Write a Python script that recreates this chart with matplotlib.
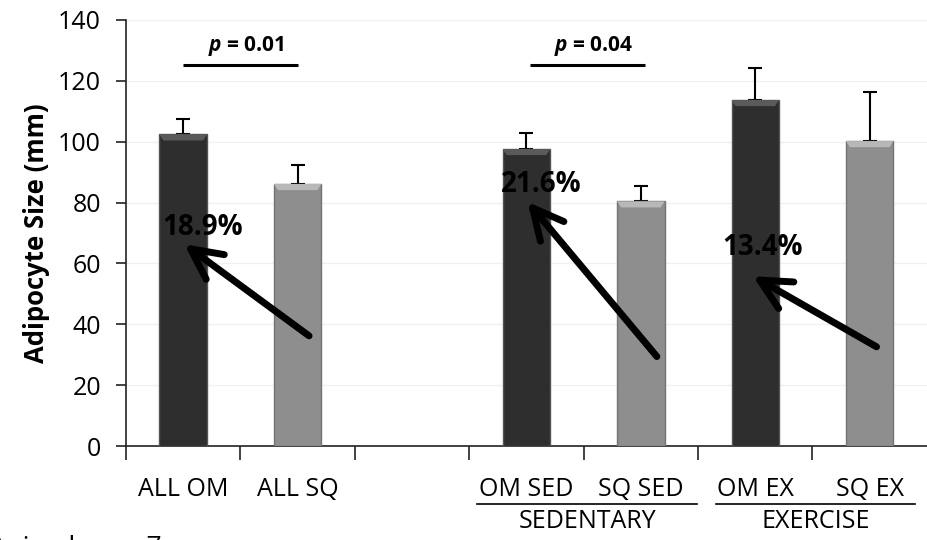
import matplotlib
matplotlib.use("Agg")
import matplotlib.pyplot as plt
from matplotlib.patches import Polygon
from matplotlib.transforms import blended_transform_factory

plt.rcParams['font.family'] = ['Open Sans', 'DejaVu Sans']
plt.rcParams['mathtext.fontset'] = 'custom'
plt.rcParams['mathtext.bfit'] = 'Open Sans:italic:bold'
plt.rcParams['mathtext.bf'] = 'Open Sans:bold'
plt.rcParams['mathtext.rm'] = 'Open Sans:bold'

# ---- data -------------------------------------------------------------
categories = ["ALL OM", "ALL SQ", "", "OM SED", "SQ SED", "OM EX", "SQ EX"]
positions = [0, 1, 3, 4, 5, 6]
means = [102.4, 86.1, 97.6, 80.4, 113.7, 100.2]
errors = [5.1, 6.2, 5.1, 4.9, 10.5, 16.2]
is_om = [True, False, True, False, True, False]

groups = ["SEDENTARY", "EXERCISE"]
group_spans = [(2.57, 4.49), (4.66, 6.40)]

p_values = ["0.01", "0.04"]
p_spans = [(0.0, 1.0), (3.03, 4.04)]
p_level = 125.3

pct_labels = ["18.9%", "21.6%", "13.4%"]
pct_pos = [(0.17, 71.8), (3.13, 85.8), (5.06, 65.3)]
arrow_tips = [(0.01, 66.3), (3.01, 80.2), (4.98, 55.8)]
arrow_tails = [(1.10, 36.2), (4.14, 29.4), (6.06, 32.6)]

# ---- figure -----------------------------------------------------------
fig = plt.figure(figsize=(9.28, 5.40), dpi=100)
ax = fig.add_axes([0.1358, 0.174, 0.863, 0.789])

bar_w = 0.415
dark, dark_top, dark_edge = "#2e2e2e", "#5a5a5a", "#555555"
light, light_top, light_edge = "#8e8e8e", "#b8b8b8", "#737373"

for x, m, e, om in zip(positions, means, errors, is_om):
    face = dark if om else light
    edge = dark_edge if om else light_edge
    top = dark_top if om else light_top
    ax.bar(x, m, width=bar_w, color=face, edgecolor=edge, linewidth=1.0, zorder=3)
    # bevelled top edge
    h, dx = 2.0, 0.035
    ax.add_patch(Polygon([(x - bar_w / 2, m), (x + bar_w / 2, m),
                          (x + bar_w / 2 - dx, m - h), (x - bar_w / 2 + dx, m - h)],
                         closed=True, facecolor=top, edgecolor='none', zorder=4))
    # upper error bar only
    ax.errorbar(x, m, yerr=[[0], [e]], fmt='none', ecolor='black',
                elinewidth=1.5, capsize=5, capthick=1.5, zorder=2)

ax.set_xlim(-0.5, 6.5)
ax.set_ylim(0, 140)
ax.set_yticks(range(0, 141, 20))
ax.yaxis.grid(True, color="#f0f0f0", linewidth=1.0, zorder=0)
ax.set_axisbelow(True)

ax.set_xticks(range(len(categories)))
ax.set_xticklabels(categories, fontsize=18)
ax.set_xticks([i - 0.5 for i in range(len(categories))], minor=True)
ax.tick_params(axis='x', which='major', length=0, pad=22)
ax.tick_params(axis='x', which='minor', length=10, width=1.2, direction='out', color='#222222')
ax.tick_params(axis='y', labelsize=18, length=7, width=1.2, color='#222222', pad=11)

for s in ("top", "right"):
    ax.spines[s].set_visible(False)
for s in ("left", "bottom"):
    ax.spines[s].set_color("#222222")
    ax.spines[s].set_linewidth(1.2)

ax.set_ylabel("Adipocyte Size (mm)", fontsize=18.5, fontweight='bold', labelpad=6)

# significance bars
for (x0, x1), num in zip(p_spans, p_values):
    ax.plot([x0, x1], [p_level, p_level], color='black', lw=2.2, solid_capstyle='butt', zorder=5)
    ax.text((x0 + x1) / 2 + 0.05, p_level + 2.3, r"$\mathbfit{p}$ = " + num,
            ha='center', va='bottom', fontsize=15, fontweight='bold')

# arrows with percentage differences
for tip, tail in zip(arrow_tips, arrow_tails):
    ax.annotate('', xy=tip, xytext=tail,
                arrowprops=dict(arrowstyle='->,head_length=1.1,head_width=0.55',
                                lw=5, color='black', mutation_scale=20,
                                shrinkA=0, shrinkB=0),
                zorder=6)
for (x, y), lab in zip(pct_pos, pct_labels):
    ax.text(x, y, lab, ha='center', va='center', fontsize=20, fontweight='bold',
            color='black', zorder=7)

# group labels under the category names
tr = blended_transform_factory(ax.transData, fig.transFigure)
for (x0, x1), g in zip(group_spans, groups):
    ax.plot([x0, x1], [1 - 504 / 540] * 2, transform=tr, color='black', lw=1.2, clip_on=False)
    ax.text((x0 + x1) / 2, 1 - 522 / 540, g, transform=tr, ha='center', va='center', fontsize=18)

fig.text(0.1746, 1 - 554 / 540, "Animals, n = 7", ha='right', va='baseline', fontsize=19)

fig.savefig("out.png", dpi=100)
